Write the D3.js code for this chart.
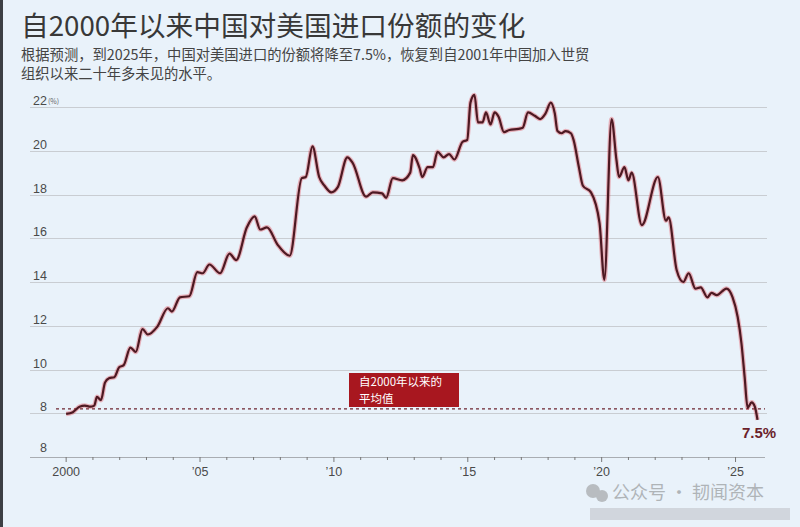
<!DOCTYPE html>
<meta charset="utf-8">
<style>
body { margin: 0; background: #e9f2fa; }
svg { display: block; font-family: "Noto Sans CJK SC", "Noto Sans", sans-serif; }
.grid line { stroke: #c9cdd2; stroke-width: 1; shape-rendering: crispEdges; }
.ylab, .xlab { fill: #4a4a4a; font-size: 12.5px; font-family: "Liberation Sans", "Noto Sans", sans-serif; }
</style>
<body>
<script src="https://cdn.jsdelivr.net/npm/d3@7/dist/d3.min.js"></script>
<script>
// share of China's imports coming from the US (%)
var years = [2000.0, 2000.25, 2000.5, 2000.7, 2000.9, 2001.05, 2001.15, 2001.3, 2001.45, 2001.6,
  2001.8, 2001.98, 2002.15, 2002.4, 2002.6, 2002.85, 2003.05, 2003.4, 2003.8, 2003.95,
  2004.25, 2004.6, 2004.9, 2005.1, 2005.35, 2005.75, 2006.1, 2006.35, 2006.75, 2007.04,
  2007.25, 2007.5, 2007.9, 2008.35, 2008.8, 2008.95, 2009.2, 2009.45, 2009.65, 2009.9,
  2010.15, 2010.5, 2010.7, 2011.2, 2011.45, 2011.8, 2011.95, 2012.2, 2012.55, 2012.85,
  2012.95, 2013.2, 2013.3, 2013.5, 2013.7, 2013.87, 2014.1, 2014.3, 2014.5, 2014.8,
  2014.98, 2015.1, 2015.25, 2015.38, 2015.55, 2015.68, 2015.85, 2016.0, 2016.15, 2016.35,
  2016.55, 2016.9, 2017.05, 2017.25, 2017.5, 2017.7, 2017.9, 2018.1, 2018.25, 2018.35,
  2018.5, 2018.65, 2018.85, 2018.95, 2019.15, 2019.3, 2019.6, 2019.92, 2020.1, 2020.37,
  2020.55, 2020.65, 2020.85, 2021.0, 2021.12, 2021.5, 2022.1, 2022.4, 2022.5, 2022.8,
  2023.05, 2023.25, 2023.5, 2023.7, 2023.95, 2024.1, 2024.3, 2024.66, 2024.89, 2025.08,
  2025.22, 2025.34, 2025.45, 2025.6, 2025.72, 2025.82];
var share = [7.97, 8.05, 8.3, 8.35, 8.3, 8.35, 8.75, 8.6, 9.4, 9.6,
  9.65, 10.1, 10.2, 11.0, 10.8, 11.85, 11.6, 11.95, 12.8, 12.65,
  13.3, 13.35, 14.45, 14.4, 14.8, 14.4, 15.3, 15.0, 16.5, 17.0,
  16.4, 16.5, 15.7, 15.2, 18.75, 18.8, 20.2, 18.8, 18.4, 18.1,
  18.35, 19.7, 19.45, 17.9, 18.1, 18.05, 17.85, 18.75, 18.65, 19.0,
  19.8, 19.2, 18.8, 19.25, 19.25, 19.95, 19.7, 19.85, 19.6, 20.4,
  20.5, 22.2, 22.55, 21.3, 21.3, 21.75, 21.2, 21.75, 21.55, 20.85,
  20.95, 21.0, 21.05, 21.75, 21.6, 21.45, 21.7, 22.2, 21.7, 20.9,
  20.8, 20.9, 20.8, 20.5, 19.25, 18.4, 18.1, 16.7, 14.1, 21.45,
  19.6, 18.8, 19.25, 18.65, 19.0, 16.6, 18.8, 16.8, 16.95, 14.55,
  14.0, 14.4, 13.7, 13.75, 13.3, 13.5, 13.4, 13.7, 13.3, 12.4,
  11.2, 9.65, 8.25, 8.5, 8.3, 7.7];
var average = 8.2;
var yTicks = [8, 10, 12, 14, 16, 18, 20, 22];
var xTicks = [2000, 2001, 2002, 2003, 2004, 2005, 2006, 2007, 2008, 2009, 2010, 2011, 2012,
  2013, 2014, 2015, 2016, 2017, 2018, 2019, 2020, 2021, 2022, 2023, 2024, 2025];
var xLabels = {2000: "2000", 2005: "\u201905", 2010: "\u201910", 2015: "\u201915", 2020: "\u201920", 2025: "\u201925"};

var width = 800, height = 527;

var svg = d3.select("body").append("svg")
  .attr("width", width)
  .attr("height", height);

svg.append("rect").attr("width", width).attr("height", height).attr("fill", "#e9f2fa");
svg.append("rect").attr("width", 3).attr("height", height).attr("fill", "#3c3f44");

var x = d3.scaleLinear().domain([1998.65, 2026.1]).range([30, 765]);
var y = d3.scaleLinear().domain([6, 22]).range([457, 107]);

// title + subtitle
svg.append("text")
  .attr("x", 21).attr("y", 36)
  .attr("fill", "#383838")
  .style("font-size", "27.7px")
  .text("自2000年以来中国对美国进口份额的变化");

var sub = svg.append("text")
  .attr("fill", "#444")
  .style("font-size", "14.3px");
sub.append("tspan").attr("x", 21).attr("y", 60)
  .text("根据预测，到2025年，中国对美国进口的份额将降至7.5%，恢复到自2001年中国加入世贸");
sub.append("tspan").attr("x", 21).attr("y", 79)
  .text("组织以来二十年多未见的水平。");

// grid
svg.append("g").attr("class", "grid")
  .selectAll("line")
  .data(yTicks)
  .enter().append("line")
  .attr("x1", 30).attr("x2", 767)
  .attr("y1", function(d) { return Math.round(y(d)) + 0.5; })
  .attr("y2", function(d) { return Math.round(y(d)) + 0.5; });

svg.append("g")
  .selectAll("text")
  .data(yTicks)
  .enter().append("text")
  .attr("class", "ylab")
  .attr("x", 47)
  .attr("y", function(d) { return y(d) - 2; })
  .attr("text-anchor", "end")
  .text(function(d) { return d; });

svg.append("text")
  .attr("x", 48).attr("y", y(22) - 3)
  .attr("fill", "#666")
  .style("font-size", "7px")
  .text("(%)");

// bottom label (printed as "8" in the source)
svg.append("text")
  .attr("class", "ylab")
  .attr("x", 47).attr("y", y(6) - 5)
  .attr("text-anchor", "end")
  .text("8");

// x axis
var xAxis = svg.append("g");
xAxis.append("line")
  .attr("x1", 30).attr("x2", 765)
  .attr("y1", 457.5).attr("y2", 457.5)
  .attr("stroke", "#a9adb2");
xAxis.selectAll(".tick")
  .data(xTicks)
  .enter().append("line")
  .attr("x1", function(d) { return x(d); })
  .attr("x2", function(d) { return x(d); })
  .attr("y1", 457)
  .attr("y2", function(d) { return xLabels[d] ? 462 : 460; })
  .attr("stroke", "#777");
xAxis.selectAll(".xlab")
  .data(xTicks.filter(function(d) { return xLabels[d]; }))
  .enter().append("text")
  .attr("class", "xlab")
  .attr("x", function(d) { return x(d); })
  .attr("y", 476)
  .attr("text-anchor", "middle")
  .text(function(d) { return xLabels[d]; });

// average dotted line
svg.append("line")
  .attr("x1", 56).attr("x2", 765)
  .attr("y1", y(average)).attr("y2", y(average))
  .attr("stroke", "#6e2630")
  .attr("stroke-width", 1.3)
  .attr("stroke-dasharray", "3,3");

// annotation box
svg.append("rect")
  .attr("x", 349).attr("y", 373)
  .attr("width", 110).attr("height", 34)
  .attr("fill", "#a8171f");
var note = svg.append("text")
  .attr("fill", "#fff")
  .style("font-size", "11.5px");
note.append("tspan").attr("x", 359).attr("y", 386).text("自2000年以来的");
note.append("tspan").attr("x", 359).attr("y", 403).text("平均值");

// series line
var pts = years.map(function(d, i) { return [d, share[i]]; });
var line = d3.line()
  .x(function(d) { return x(d[0]); })
  .y(function(d) { return y(d[1]); })
  .curve(d3.curveMonotoneX);

svg.append("path")
  .datum(pts)
  .attr("d", line)
  .attr("fill", "none")
  .attr("stroke", "#e23a45")
  .attr("stroke-opacity", 0.35)
  .attr("stroke-width", 4.5)
  .attr("stroke-linejoin", "round");

svg.append("path")
  .datum(pts)
  .attr("d", line)
  .attr("fill", "none")
  .attr("stroke", "#4d1922")
  .attr("stroke-width", 2.2)
  .attr("stroke-linejoin", "round");

// end label
svg.append("text")
  .attr("x", 742).attr("y", 438)
  .attr("fill", "#6b1f2b")
  .style("font-size", "15px")
  .style("font-weight", "bold")
  .style("font-family", "'Liberation Sans', sans-serif")
  .text("7.5%");

// watermark
var wm = svg.append("g").attr("opacity", 0.5);
wm.append("circle").attr("cx", 593).attr("cy", 491).attr("r", 7).attr("fill", "#888");
wm.append("circle").attr("cx", 602).attr("cy", 496).attr("r", 6).attr("fill", "#888");
wm.append("text")
  .attr("x", 612).attr("y", 499)
  .attr("fill", "#777")
  .style("font-size", "18px")
  .text("公众号 · 韧闻资本");
svg.append("rect")
  .attr("x", 590).attr("y", 508).attr("width", 200).attr("height", 12)
  .attr("fill", "#c6cbd0").attr("opacity", 0.7);
</script>
